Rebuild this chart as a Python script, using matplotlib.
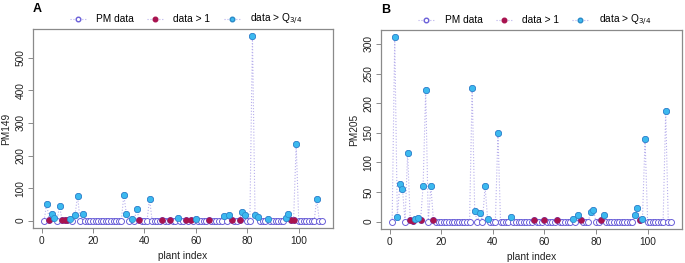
import numpy as np
import matplotlib.pyplot as plt
from matplotlib.lines import Line2D

plt.rcParams['font.family'] = ['Liberation Sans', 'DejaVu Sans']

# plant index 1..109
plant_index = np.arange(1, 110)

# PM149 values (non-zero ones, everything else is 0)
pm149_nonzero = {2: 52, 3: 2, 4: 19, 5: 7, 7: 44, 8: 2, 9: 2, 10: 2, 11: 6, 13: 16,
                 14: 76, 16: 19, 32: 78, 33: 20, 35: 6, 37: 35, 38: 2, 42: 66,
                 47: 2, 50: 2, 53: 8, 56: 2, 58: 2, 60: 4, 65: 2, 71: 13, 73: 16,
                 74: 2, 77: 2, 78: 26, 79: 16, 82: 566, 83: 16, 84: 11, 88: 5,
                 95: 7, 96: 20, 97: 2, 98: 2, 99: 235, 107: 66}

# PM205 values
pm205_nonzero = {2: 311, 3: 8, 4: 63, 5: 55, 7: 116, 8: 3, 9: 1.5, 10: 4, 11: 6,
                 12: 2, 13: 60, 14: 223, 16: 60, 17: 2, 32: 225, 33: 18, 35: 15,
                 37: 60, 38: 4, 42: 149, 47: 7, 56: 2, 60: 2, 65: 2, 71: 4, 73: 11,
                 74: 2, 78: 17, 79: 19, 82: 2, 83: 11, 95: 11, 96: 23, 97: 2,
                 98: 5, 99: 139, 107: 186}

pm149 = np.array([pm149_nonzero.get(i, 0) for i in plant_index], dtype=float)
pm205 = np.array([pm205_nonzero.get(i, 0) for i in plant_index], dtype=float)

q3_a = 3.2
q3_b = 3.2

line_col = '#b8b0ec'
open_col = '#6a5fd8'
red_col = '#a8134f'
blue_col = '#3cb9ef'
blue_edge = '#2a8ac8'
grey = '#8a8a8a'


def PanelPM(ax, values, q3, ylabel, yticks, letter):
    ax.plot(plant_index, values, linestyle=':', color=line_col, lw=0.8, zorder=1)
    ax.plot(plant_index, values, 'o', mfc='white', mec=open_col, ms=4.3, mew=0.7, zorder=2)
    red = (values > 1) & (values <= q3)
    blue = values > q3
    ax.plot(plant_index[red], values[red], 'o', color=red_col, ms=4, mew=0.5, zorder=3)
    ax.plot(plant_index[blue], values[blue], 'o', mfc=blue_col, mec=blue_edge, ms=4.5,
            mew=0.5, zorder=3)
    ymax = values.max()
    ax.set_xlim(1 - 0.04 * 108, 109 + 0.04 * 108)
    ax.set_ylim(-0.04 * ymax, ymax * 1.04)
    ax.set_xticks([0, 20, 40, 60, 80, 100])
    ax.set_yticks(yticks)
    ax.set_yticklabels([str(t) for t in yticks], rotation=90, va='center')
    ax.tick_params(labelsize=7.3, length=3.5, color=grey, width=0.7, pad=2, labelcolor='#222222')
    for s in ax.spines.values():
        s.set_color(grey)
        s.set_linewidth(0.9)
    ax.set_xlabel('plant index', fontsize=7.3, labelpad=4, color='#222222')
    ax.set_ylabel(ylabel, fontsize=7.3, labelpad=3, color='#222222')
    ax.text(0.0, 1.085, letter, transform=ax.transAxes, fontsize=9, fontweight='bold',
            ha='left', va='baseline')
    handles = [
        Line2D([], [], linestyle=':', color=line_col, marker='o', mfc='white', mec=open_col, ms=3.3, lw=0.8),
        Line2D([], [], linestyle=':', color=line_col, marker='o', mfc=red_col, mec=red_col, ms=3.3, lw=0.8),
        Line2D([], [], linestyle=':', color=line_col, marker='o', mfc=blue_col, mec=blue_edge, ms=3.3, lw=0.8),
    ]
    ax.legend(handles, ['PM data', 'data > 1', r'data > Q$_{3/4}$'], ncol=3, frameon=False,
              loc='lower center', bbox_to_anchor=(0.51, 0.99), fontsize=7.3, handlelength=1.6,
              columnspacing=1.3, handletextpad=1.0, borderaxespad=0.0)


fig = plt.figure(figsize=(6.85, 2.63), dpi=100)
ax_a = fig.add_axes([33 / 685, 1 - 228 / 263, 300 / 685, 199 / 263])
ax_b = fig.add_axes([381 / 685, 1 - 229 / 263, 301 / 685, 199 / 263])

PanelPM(ax_a, pm149, q3_a, 'PM149', [0, 100, 200, 300, 400, 500], 'A')
PanelPM(ax_b, pm205, q3_b, 'PM205', [0, 50, 100, 150, 200, 250, 300], 'B')

fig.savefig('out.png', dpi=100)
